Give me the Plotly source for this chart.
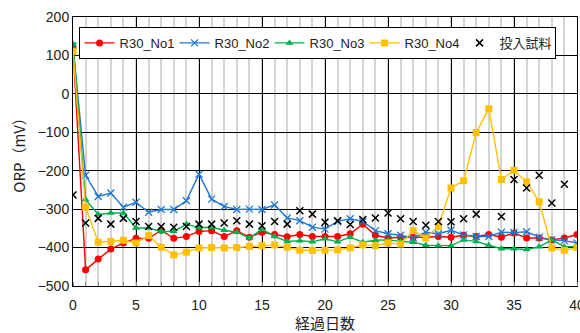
import plotly.graph_objects as go

# Elapsed days and ORP readings (mV)
days = list(range(0, 41))

r30_no1 = [120, -458, -430, -404, -388, -376, -376, -355, -376, -371,
           -358, -356, -371, -356, -373, -360, -366, -372, -366, -371,
           -371, -371, -364, -339, -368, -375, -373, -373, -373, -371,
           -373, -368, -371, -366, -373, -362, -375, -375, -380, -375, -366]

r30_no2 = [125, -212, -267, -258, -295, -282, -308, -301, -301, -278,
           -209, -274, -293, -301, -300, -301, -289, -323, -330, -347,
           -352, -332, -325, -332, -356, -364, -368, -375, -360, -364,
           -355, -367, -371, -371, -360, -361, -359, -373, -380, -382, -388]

r30_no3 = [130, -275, -314, -310, -310, -349, -349, -358, -358, -339,
           -348, -347, -355, -360, -375, -352, -371, -384, -382, -385,
           -377, -385, -373, -386, -381, -380, -384, -386, -394, -395,
           -395, -380, -384, -394, -403, -403, -405, -398, -380, -398, -397]

r30_no4 = [110, -295, -386, -384, -381, -388, -369, -399, -419, -412,
           -401, -400, -401, -400, -397, -395, -393, -399, -407, -407,
           -407, -406, -401, -393, -395, -388, -391, -356, -375, -345,
           -245, -226, -101, -39, -223, -199, -229, -281, -401, -407, -400]

sample_input = [-263, -336, -324, -339, -324, -332, -345, -345, -347, -345,
                -339, -339, -336, -330, -339, -343, -332, -339, -304, -313,
                -334, -330, -340, -327, -323, -310, -325, -332, -342, -332,
                -333, -325, -313, None, -319, -223, -245, -212, -284, -235, None]

x_ticks = [0, 5, 10, 15, 20, 25, 30, 35, 40]

series = [
    ("R30_No1", r30_no1, "#FF0000", "circle"),
    ("R30_No2", r30_no2, "#1F78D1", "x-thin"),
    ("R30_No3", r30_no3, "#00B050", "triangle-up"),
    ("R30_No4", r30_no4, "#FFC000", "square"),
]

fig = go.Figure()
for name, vals, color, symbol in series:
    mk = dict(color=color, size=7, symbol=symbol)
    if symbol == "x-thin":
        mk.update(size=7, line=dict(color=color, width=1.3))
    fig.add_trace(go.Scatter(
        x=days, y=vals, name=name, mode="lines+markers",
        line=dict(color=color, width=1.4),
        marker=mk,
    ))

fig.add_trace(go.Scatter(
    x=days, y=sample_input, name="投入試料", mode="markers",
    marker=dict(symbol="x-thin", size=7, color="black",
                line=dict(color="black", width=1.5)),
))

tick_font = dict(family="Liberation Sans, Noto Sans CJK JP", size=14, color="#222")
title_font = dict(family="Noto Sans CJK JP", size=15, color="#222")

fig.update_layout(
    width=580, height=333,
    margin=dict(l=73, r=3, t=17, b=47),
    paper_bgcolor="white", plot_bgcolor="white",
    showlegend=True,
    legend=dict(
        orientation="h", x=0.011, y=0.963, xanchor="left", yanchor="top",
        bgcolor="white", bordercolor="black", borderwidth=1,
        font=dict(family="Liberation Sans, Noto Sans CJK JP", size=13, color="#222"),
        entrywidth=50, entrywidthmode="pixels",
        itemwidth=30,
    ),
    xaxis=dict(
        range=[0, 40], tickmode="array", tickvals=x_ticks,
        ticktext=[str(v) for v in x_ticks],
        automargin=False,
        showgrid=True, gridcolor="black", gridwidth=1,
        showline=True, linecolor="black", linewidth=1, mirror=True,
        ticks="", tickfont=tick_font, zeroline=False,
        ticklabelstandoff=6, ticklabeloverflow="allow",
        minor=dict(tickmode="linear", tick0=0, dtick=1, showgrid=True,
                   gridcolor="#D4D4D4", gridwidth=2,
                   ticks="inside", ticklen=4, tickcolor="#888"),
    ),
    yaxis=dict(
        range=[-500, 200], dtick=100,
        automargin=False,
        showgrid=True, gridcolor="black", gridwidth=1,
        showline=True, linecolor="black", linewidth=1, mirror=True,
        ticks="", tickfont=tick_font, zeroline=False,
        title=dict(text="ORP（mV）", font=title_font, standoff=8),
    ),
    annotations=[dict(
        text="経過日数", font=title_font, showarrow=False,
        xref="paper", yref="paper", x=0.5, y=-0.136,
        xanchor="center", yanchor="middle",
    )],
)

fig.write_html("out.html")
